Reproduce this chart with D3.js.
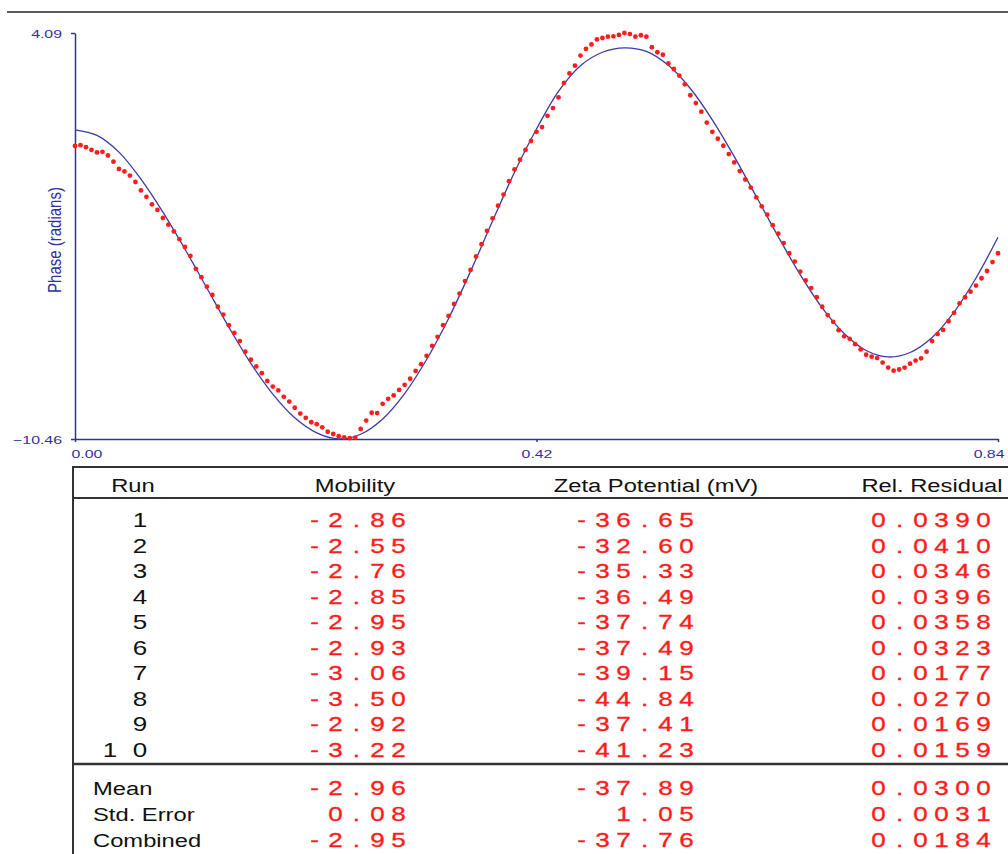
<!DOCTYPE html>
<html>
<head>
<meta charset="utf-8">
<script src="https://cdn.jsdelivr.net/npm/d3@7"></script>
<style>
html, body { margin: 0; padding: 0; background: #fff; }
svg { display: block; }
text { font-family: "Liberation Sans", Arial, sans-serif; }
</style>
</head>
<body>
<script>
//begin data
var fitStep = 0.02;   // fitted curve, read every 0.02 s
var fitPhase = [0.62, 0.42, -0.18, -1.15, -2.33, -3.65, -5.05, -6.45, -7.75, -8.85,
    -9.70, -10.24, -10.455, -10.29, -9.74, -8.83, -7.61, -6.14, -4.45, -2.65,
    -0.90, 0.65, 2.00, 2.92, 3.40, 3.56, 3.43, 2.93, 2.10, 0.98,
    -0.34, -1.77, -3.21, -4.57, -5.76, -6.68, -7.29, -7.52, -7.36, -6.82,
    -5.91, -4.69, -3.23];

var dotStep = 0.005;  // measured phase, one dot every 0.005 s
var dotPhase = [0.04, 0.07, 0.00, -0.10, -0.19, -0.17, -0.30, -0.52, -0.78, -0.87,
    -1.02, -1.25, -1.55, -1.78, -2.05, -2.25, -2.54, -2.78, -3.02, -3.30,
    -3.58, -3.90, -4.36, -4.66, -5.00, -5.30, -5.72, -6.00, -6.38, -6.66,
    -6.95, -7.33, -7.62, -7.86, -8.10, -8.38, -8.58, -8.72, -8.95, -9.12,
    -9.34, -9.55, -9.70, -9.86, -9.93, -10.04, -10.20, -10.28, -10.36, -10.40,
    -10.43, -10.41, -10.10, -9.80, -9.52, -9.53, -9.20, -9.02, -8.90, -8.70,
    -8.52, -8.30, -8.02, -7.78, -7.48, -7.12, -6.80, -6.38, -6.05, -5.62,
    -5.25, -4.80, -4.40, -3.92, -3.48, -3.00, -2.55, -2.10, -1.70, -1.22,
    -0.80, -0.45, -0.10, 0.22, 0.55, 0.72, 1.12, 1.40, 1.78, 2.30,
    2.64, 2.92, 3.28, 3.52, 3.68, 3.86, 3.91, 3.96, 3.97, 4.02,
    4.09, 4.05, 3.96, 4.01, 3.96, 3.58, 3.40, 3.31, 3.00, 2.80,
    2.56, 2.25, 1.86, 1.58, 1.27, 0.88, 0.55, 0.30, 0.05, -0.25,
    -0.55, -0.86, -1.16, -1.45, -1.80, -2.12, -2.42, -2.80, -3.10, -3.44,
    -3.80, -4.10, -4.46, -4.78, -5.05, -5.38, -5.72, -6.02, -6.26, -6.56,
    -6.78, -6.87, -7.06, -7.25, -7.44, -7.51, -7.56, -7.72, -7.90, -8.01,
    -7.97, -7.90, -7.76, -7.65, -7.57, -7.33, -6.95, -6.70, -6.55, -6.24,
    -5.94, -5.60, -5.38, -5.18, -4.96, -4.70, -4.44, -4.12, -3.80];

var xTicks = [0, 0.42, 0.84];
var yTicks = [-10.46, 4.09];
var yLabel = "Phase (radians)";

var headers = ["Run", "Mobility", "Zeta Potential (mV)", "Rel. Residual"];
var runs = ["1", "2", "3", "4", "5", "6", "7", "8", "9", "10"];
var mobility = [-2.86, -2.55, -2.76, -2.85, -2.95, -2.93, -3.06, -3.50, -2.92, -3.22];
var zeta = [-36.65, -32.60, -35.33, -36.49, -37.74, -37.49, -39.15, -44.84, -37.41, -41.23];
var residual = [0.0390, 0.0410, 0.0346, 0.0396, 0.0358, 0.0323, 0.0177, 0.0270, 0.0169, 0.0159];
var summaryLabels = ["Mean", "Std. Error", "Combined"];
var summaryMobility = [-2.96, 0.08, -2.95];
var summaryZeta = [-37.89, 1.05, -37.76];
var summaryResidual = [0.0300, 0.0031, 0.0184];
//end data

var W = 1008, H = 854;
var navy = "#31319b", red = "#ff1c1c", ink = "#111";
var sx = 1.32;   // the screenshot is wide, so text is stretched sideways

var svg = d3.select("body").append("svg")
    .attr("width", W)
    .attr("height", H);

// rule at the very top
svg.append("line")
    .attr("x1", 7).attr("x2", W).attr("y1", 12).attr("y2", 12)
    .style("stroke", "#5c5c5c").style("stroke-width", 2);

//begin plot
var x = d3.scaleLinear().domain([0, 0.84]).range([75, 998]);
var y = d3.scaleLinear().domain([-10.46, 4.09]).range([439, 33]);

var yAxis = svg.append("g")
    .attr("transform", "translate(75,0)")
    .call(d3.axisLeft(y).tickValues(yTicks).tickSize(4).tickSizeOuter(0)
        .tickFormat(d3.format(".2f")));
var xAxis = svg.append("g")
    .attr("transform", "translate(0,439)")
    .call(d3.axisBottom(x).tickValues(xTicks).tickSize(3).tickSizeOuter(0)
        .tickFormat(d3.format(".2f")));

[yAxis, xAxis].forEach(function (a) {
    a.select(".domain").style("stroke", navy).style("stroke-width", 1.5);
    a.selectAll(".tick line").style("stroke", navy).style("stroke-width", 1.5);
    a.selectAll(".tick text")
        .style("fill", navy)
        .style("font-family", "'Liberation Sans', Arial, sans-serif")
        .style("font-size", "11.5px");
});

var tsx = 1.38;
yAxis.selectAll(".tick text")
    .attr("transform", "scale(" + tsx + ",1)")
    .attr("x", -13 / tsx)
    .attr("dy", "0.36em");
xAxis.selectAll(".tick text")
    .attr("transform", "scale(" + tsx + ",1)")
    .attr("dy", 0)
    .attr("y", 19)
    .attr("text-anchor", function (d, i) {
        return i == 0 ? "start" : (i == xTicks.length - 1 ? "end" : "middle");
    })
    .attr("x", function (d, i) {
        return (i == 0 ? -4 : (i == xTicks.length - 1 ? 6 : 0)) / tsx;
    });

svg.append("g")
    .attr("transform", "translate(61,240) scale(1.25,1) rotate(-90)")
    .append("text")
    .attr("text-anchor", "middle")
    .style("font-size", "15px")
    .style("fill", navy)
    .text(yLabel);

var fitLine = d3.line()
    .x(function (d, i) { return x(i * fitStep); })
    .y(function (d) { return y(d); })
    .curve(d3.curveCatmullRom);

svg.append("path")
    .datum(fitPhase)
    .attr("d", fitLine)
    .style("fill", "none")
    .style("stroke", "#3a3aa6")
    .style("stroke-width", 1.3);

svg.append("g").selectAll("circle")
    .data(dotPhase)
    .enter().append("circle")
    .attr("cx", function (d, i) { return x(i * dotStep); })
    .attr("cy", function (d) { return y(d); })
    .attr("r", 2.4)
    .style("fill", red);
//end plot

//begin table
var tl = 73;
[[467, 2], [498, 2], [764, 2.5]].forEach(function (h) {
    svg.append("line")
        .attr("x1", tl).attr("x2", W).attr("y1", h[0]).attr("y2", h[0])
        .style("stroke", "#333").style("stroke-width", h[1]);
});
svg.append("line")
    .attr("x1", tl).attr("x2", tl).attr("y1", 466).attr("y2", H)
    .style("stroke", "#333").style("stroke-width", 2);

function label(str, cx, base, anchor) {
    svg.append("text")
        .attr("transform", "scale(" + sx + ",1)")
        .attr("x", cx / sx)
        .attr("y", base)
        .attr("text-anchor", anchor)
        .style("font-size", "18px")
        .style("fill", ink)
        .text(str);
}

// one character per fixed cell, right aligned, as the instrument prints it
function cells(str, lastCenter, pitch, base, colour, heavy) {
    var n = str.length, s = 1.3;
    var xs = d3.range(n).map(function (k) {
        return ((lastCenter - (n - 1 - k) * pitch) / s).toFixed(2);
    });
    svg.append("text")
        .attr("transform", "scale(" + s + ",1)")
        .attr("x", xs.join(" "))
        .attr("y", base)
        .attr("text-anchor", "middle")
        .style("font-size", "20px")
        .style("fill", colour)
        .style("stroke", heavy ? colour : "none")
        .style("stroke-width", 0.35)
        .text(str);
}

var headX = [133, 355, 656, 932];
headers.forEach(function (h, i) { label(h, headX[i], 492, "middle"); });

var rowY = d3.scaleLinear().domain([0, runs.length - 1]).range([527, 757]);
var colRun = 140, colMob = 398.5, colZeta = 686.5, colRes = 983.5;

runs.forEach(function (r, i) {
    var b = rowY(i);
    cells(r, colRun, 30, b, ink, false);
    cells(mobility[i].toFixed(2), colMob, 21, b, red, true);
    cells(zeta[i].toFixed(2), colZeta, 21, b, red, true);
    cells(residual[i].toFixed(4), colRes, 21, b, red, true);
});

var sumY = [795, 821, 847];
summaryLabels.forEach(function (s, i) {
    label(s, 93, sumY[i], "start");
    cells(summaryMobility[i].toFixed(2), colMob, 21, sumY[i], red, true);
    cells(summaryZeta[i].toFixed(2), colZeta, 21, sumY[i], red, true);
    cells(summaryResidual[i].toFixed(4), colRes, 21, sumY[i], red, true);
});
//end table
</script>
</body>
</html>
